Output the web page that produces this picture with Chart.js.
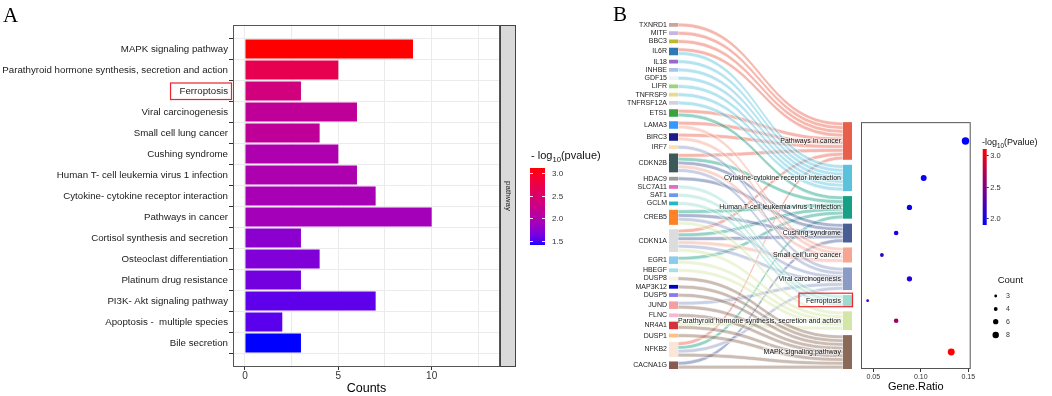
<!DOCTYPE html>
<html lang="en">
<head>
<meta charset="UTF-8">
<title>Pathway enrichment</title>
<script src="https://cdn.jsdelivr.net/npm/chart.js@4.4.1/dist/chart.umd.min.js"></script>
<style>
  body { margin: 0; background: #fff; }
  #wrap { position: relative; width: 1052px; height: 396px; overflow: hidden; }
  canvas { position: absolute; top: 0; }
  #chartA { left: 0; }
  #chartB { left: 600px; }
  #chartC { left: 855px; }
</style>
</head>
<body>
<div id="wrap">
  <canvas id="chartA" width="620" height="396"></canvas>
  <canvas id="chartB" width="258" height="396"></canvas>
  <canvas id="chartC" width="197" height="396"></canvas>
</div>
<script>
// ---- panel A data ----
const pathwaysA = ['MAPK signaling pathway', 'Parathyroid hormone synthesis, secretion and action', 'Ferroptosis',
  'Viral carcinogenesis', 'Small cell lung cancer', 'Cushing syndrome', 'Human T- cell leukemia virus 1 infection',
  'Cytokine- cytokine receptor interaction', 'Pathways in cancer', 'Cortisol synthesis and secretion',
  'Osteoclast differentiation', 'Platinum drug resistance', 'PI3K- Akt signaling pathway',
  'Apoptosis -  multiple species', 'Bile secretion'];
const countsA = [9, 5, 3, 6, 4, 5, 6, 7, 10, 3, 4, 3, 7, 2, 3];
const logPA = [3.12, 2.69, 2.35, 2.14, 2.14, 1.98, 1.97, 1.93, 1.90, 1.74, 1.68, 1.62, 1.54, 1.53, 1.40];
const countTicksA = [0, 2.5, 5, 7.5, 10, 12.5];
const colorTicksA = [1.5, 2.0, 2.5, 3.0];

// ---- panel B data ----
const genes = ['TXNRD1', 'MITF', 'BBC3', 'IL6R', 'IL18', 'INHBE', 'GDF15', 'LIFR', 'TNFRSF9', 'TNFRSF12A',
  'ETS1', 'LAMA3', 'BIRC3', 'IRF7', 'CDKN2B', 'HDAC9', 'SLC7A11', 'SAT1', 'GCLM', 'CREB5',
  'CDKN1A', 'EGR1', 'HBEGF', 'DUSP8', 'MAP3K12', 'DUSP5', 'JUND', 'FLNC', 'NR4A1', 'DUSP1', 'NFKB2', 'CACNA1G'];
const geneColors = ['#c9a59b', '#c8b4e0', '#bdb92c', '#2f78b8', '#9a68c6', '#a8c4ea', '#eef3f7', '#98d67a',
  '#e6dc8a', '#d2d2da', '#3aa340', '#3399ff', '#1b1b8a', '#fbe1b0', '#3e5a58', '#9b9b9b', '#e26cc2', '#6a98ea',
  '#20bac6', '#ff8224', '#dcdcdc', '#8ccbf0', '#a6dfe8', '#f9f2e6', '#0000cc', '#8a78ee', '#f5a0a0', '#f7b6d8',
  '#d83038', '#ffc07e', '#f9e6d6', '#8a5a50'];
const pathwaysB = ['Pathways in cancer', 'Cytokine-cytokine receptor interaction', 'Human T-cell leukemia virus 1 infection',
  'Cushing syndrome', 'Small cell lung cancer', 'Viral carcinogenesis', 'Ferroptosis',
  'Parathyroid hormone synthesis, secretion and action', 'MAPK signaling pathway'];
const pathwayColors = ['#e8604c', '#5cc1dc', '#17a086', '#4a5e96', '#f6a592', '#8c9ac6', '#9cdcd0', '#d4e6a6', '#8c6a58'];
const pathwayGenes = [
  ['TXNRD1', 'MITF', 'BBC3', 'IL6R', 'ETS1', 'LAMA3', 'BIRC3', 'CDKN2B', 'CDKN1A', 'NFKB2'],
  ['IL6R', 'IL18', 'INHBE', 'GDF15', 'LIFR', 'TNFRSF9', 'TNFRSF12A'],
  ['ETS1', 'CDKN2B', 'CREB5', 'CDKN1A', 'EGR1', 'NFKB2'],
  ['CDKN2B', 'HDAC9', 'CREB5', 'CDKN1A', 'CACNA1G'],
  ['LAMA3', 'BIRC3', 'CDKN2B', 'CDKN1A'],
  ['IRF7', 'CDKN2B', 'CREB5', 'CDKN1A', 'JUND', 'NFKB2'],
  ['SLC7A11', 'SAT1', 'GCLM'],
  ['CREB5', 'CDKN1A', 'EGR1', 'HBEGF', 'NR4A1'],
  ['DUSP8', 'MAP3K12', 'DUSP5', 'JUND', 'FLNC', 'NR4A1', 'DUSP1', 'NFKB2', 'CACNA1G']
];
const geneRatio = [0.147, 0.103, 0.088, 0.074, 0.059, 0.088, 0.044, 0.074, 0.132];
const logPB = [1.89, 1.93, 1.96, 2.02, 2.12, 2.05, 2.20, 2.62, 3.10];
const ratioTicksB = [0.05, 0.10, 0.15];
const colorTicksB = [2.0, 2.5, 3.0];
const countLegendB = [3, 4, 6, 8];

const FONT = '"Liberation Sans", Arial, sans-serif';
const SERIF = '"Liberation Serif", "DejaVu Serif", serif';

// blue -> red in Lab space (panel A), plain rgb (panel B)
function toLin(c) { c /= 255; return c <= 0.04045 ? c / 12.92 : Math.pow((c + 0.055) / 1.055, 2.4); }
function toSrgb(c) { c = Math.max(0, Math.min(1, c)); return Math.round(255 * (c <= 0.0031308 ? 12.92 * c : 1.055 * Math.pow(c, 1 / 2.4) - 0.055)); }
function rgbToLab(rgb) {
  const [R, G, B] = rgb.map(toLin);
  const f = t => t > 0.008856 ? Math.cbrt(t) : 7.787 * t + 16 / 116;
  const fx = f((0.4124 * R + 0.3576 * G + 0.1805 * B) / 0.95047);
  const fy = f(0.2126 * R + 0.7152 * G + 0.0722 * B);
  const fz = f((0.0193 * R + 0.1192 * G + 0.9505 * B) / 1.08883);
  return [116 * fy - 16, 500 * (fx - fy), 200 * (fy - fz)];
}
function labToRgb([L, a, b]) {
  const fy = (L + 16) / 116, fx = fy + a / 500, fz = fy - b / 200;
  const inv = t => t * t * t > 0.008856 ? t * t * t : (t - 16 / 116) / 7.787;
  const x = inv(fx) * 0.95047, y = inv(fy), z = inv(fz) * 1.08883;
  const r = toSrgb(3.2406 * x - 1.5372 * y - 0.4986 * z);
  const g = toSrgb(-0.9689 * x + 1.8758 * y + 0.0415 * z);
  const bl = toSrgb(0.0557 * x - 0.2040 * y + 1.0570 * z);
  return `rgb(${r},${g},${bl})`;
}
const LAB_LOW = rgbToLab([0, 0, 255]), LAB_HIGH = rgbToLab([255, 0, 0]);
const minA = Math.min(...logPA), maxA = Math.max(...logPA);
function colorA(v) {
  const t = (v - minA) / (maxA - minA);
  return labToRgb(LAB_LOW.map((c, i) => c + t * (LAB_HIGH[i] - c)));
}
const minB = Math.min(...logPB), maxB = Math.max(...logPB);
function colorB(v) {
  const t = Math.max(0, Math.min(1, (v - minB) / (maxB - minB)));
  return `rgb(${Math.round(255 * t)},0,${Math.round(255 * (1 - t))})`;
}
function radiusB(c) { return Math.sqrt(Math.max(0.5, -3.07 + 1.676 * c)); }

function drawLogTitle(ctx, x, y, size, lead, tail) {
  ctx.textAlign = 'left'; ctx.textBaseline = 'alphabetic';
  ctx.font = size + 'px ' + FONT;
  ctx.fillText(lead, x, y);
  let w = ctx.measureText(lead).width;
  ctx.font = (size * 0.7) + 'px ' + FONT;
  ctx.fillText('10', x + w, y + size * 0.3);
  w += ctx.measureText('10').width;
  ctx.font = size + 'px ' + FONT;
  ctx.fillText(tail, x + w, y);
}

// ---------------- panel A ----------------
const panelA = {
  id: 'panelA',
  afterDraw(chart) {
    const { ctx, chartArea: a, scales: { y } } = chart;
    ctx.save();
    ctx.strokeStyle = '#555'; ctx.lineWidth = 1;
    ctx.strokeRect(a.left + 0.5, a.top + 0.5, a.width - 1, a.height - 1);
    // facet strip
    ctx.fillStyle = '#d9d9d9';
    ctx.fillRect(a.right, a.top, 15, a.height);
    ctx.strokeStyle = '#444';
    ctx.strokeRect(a.right + 0.5, a.top + 0.5, 15, a.height - 1);
    ctx.save();
    ctx.translate(a.right + 8, (a.top + a.bottom) / 2);
    ctx.rotate(Math.PI / 2);
    ctx.fillStyle = '#1a1a1a'; ctx.font = '8px ' + FONT;
    ctx.textAlign = 'center'; ctx.textBaseline = 'middle';
    ctx.fillText('pathway', 0, 0);
    ctx.restore();

    // highlight box round "Ferroptosis"
    const fi = pathwaysA.indexOf('Ferroptosis');
    const fy = y.getPixelForValue(fi);
    ctx.font = '9.7px ' + FONT;
    const tw = ctx.measureText('Ferroptosis').width;
    const tx = a.left - 5 - tw;
    ctx.strokeStyle = '#e8262b'; ctx.lineWidth = 1.2;
    ctx.strokeRect(tx - 9, fy - 8, a.left - 1.5 - (tx - 9), 16.5);

    // colour bar legend
    ctx.fillStyle = '#111';
    drawLogTitle(ctx, 531, 158.5, 11, '- log', '(pvalue)');
    const bx = 530, bw = 15, top = 168, bot = 245;
    for (let py = top; py < bot; py++) {
      const v = maxA - (py - top + 0.5) / (bot - top) * (maxA - minA);
      ctx.fillStyle = colorA(v);
      ctx.fillRect(bx, py, bw, 1);
    }
    ctx.font = '8px ' + FONT; ctx.textAlign = 'left'; ctx.textBaseline = 'middle';
    ctx.strokeStyle = 'rgba(255,255,255,0.9)'; ctx.lineWidth = 1;
    colorTicksA.forEach(v => {
      const py = Math.round(bot - (v - minA) / (maxA - minA) * (bot - top)) + 0.5;
      ctx.beginPath();
      ctx.moveTo(bx, py); ctx.lineTo(bx + 3, py);
      ctx.moveTo(bx + bw - 3, py); ctx.lineTo(bx + bw, py);
      ctx.stroke();
      ctx.fillStyle = '#333';
      ctx.fillText(v.toFixed(1), 552, py);
    });

    ctx.fillStyle = '#000'; ctx.font = '21px ' + SERIF;
    ctx.textAlign = 'left'; ctx.textBaseline = 'alphabetic';
    ctx.fillText('A', 3, 22);
    ctx.restore();
  }
};

new Chart(document.getElementById('chartA'), {
  type: 'bar',
  data: {
    datasets: [{
      data: countsA.map((c, i) => ({ x: c, y: i })),
      backgroundColor: logPA.map(colorA),
      borderWidth: 0,
      barPercentage: 0.9,
      categoryPercentage: 1
    }]
  },
  options: {
    indexAxis: 'y',
    responsive: false,
    animation: false,
    devicePixelRatio: 1,
    layout: { padding: { left: 0, top: 25, right: 120, bottom: 0 } },
    plugins: { legend: { display: false }, tooltip: { enabled: false } },
    scales: {
      x: {
        type: 'linear', min: -0.64, max: 13.66,
        afterBuildTicks: s => { s.ticks = countTicksA.map(v => ({ value: v })); },
        afterFit: s => { s.height = 29; },
        border: { display: false },
        grid: {
          color: '#ebebeb', tickLength: 3,
          tickColor: c => (c.tick && c.tick.value % 5 === 0) ? '#333' : 'rgba(0,0,0,0)'
        },
        ticks: {
          autoSkip: false, maxRotation: 0, padding: 0, color: '#333',
          font: { family: FONT, size: 10 },
          callback: v => (v % 5 === 0 ? String(v) : '')
        },
        title: { display: true, text: 'Counts', color: '#000', font: { family: FONT, size: 12.5 }, padding: { top: 0, bottom: 0 } }
      },
      y: {
        type: 'linear', reverse: true, min: -0.6, max: pathwaysA.length - 0.4,
        afterBuildTicks: s => { s.ticks = pathwaysA.map((_, i) => ({ value: i })); },
        afterFit: s => { s.width = 233; },
        border: { display: false },
        grid: { color: '#ebebeb', tickLength: 4, tickColor: '#333' },
        ticks: {
          autoSkip: false, padding: 1, color: '#1a1a1a',
          font: { family: FONT, size: 9.7 },
          callback: v => pathwaysA[v]
        }
      }
    }
  },
  plugins: [panelA]
});

// ---------------- panel B : sankey ----------------
const GENE_GAP = 1.19, PATH_GAP = 1.32, NODE_W = 9;
const geneCount = genes.map(g => pathwayGenes.filter(l => l.includes(g)).length);
const pathCount = pathwayGenes.map(l => l.length);
const geneTop = [];
let acc = 0;
geneCount.forEach(c => { geneTop.push(acc); acc += c + GENE_GAP; });
const spanB = acc - GENE_GAP;
const pathStart = [];
acc = 0;
pathCount.forEach(c => { pathStart.push(acc); acc += c + PATH_GAP; });
const pathSpan = acc - PATH_GAP;
const pathTop = pathStart.map(v => v + spanB - pathSpan);
const pathCenter = pathTop.map((t, j) => t + pathCount[j] / 2);

// one link per gene/pathway pair, stacked in order on both sides
const links = [];
pathwayGenes.forEach((list, j) => {
  const sorted = list.map(g => genes.indexOf(g)).sort((a, b) => a - b);
  sorted.forEach((gi, k) => {
    const slot = pathwayGenes.slice(0, j).filter(l => l.includes(genes[gi])).length;
    links.push({ gi, j, g0: geneTop[gi] + slot, p0: pathTop[j] + k });
  });
});

function withAlpha(hex, a) {
  const n = parseInt(hex.slice(1), 16);
  return `rgba(${n >> 16},${(n >> 8) & 255},${n & 255},${a})`;
}

const SANKEY_TOP = 23, SANKEY_BOTTOM = 369;

const sankeyB = {
  id: 'sankeyB',
  afterDraw(chart) {
    const { ctx, chartArea: a, scales: { y } } = chart;
    ctx.save();
    const xg = a.left + NODE_W, xp = a.right - NODE_W, xm = (xg + xp) / 2;
    ctx.lineWidth = 0.7;
    ctx.strokeStyle = 'rgba(255,255,255,0.85)';
    links.forEach(l => {
      const g0 = y.getPixelForValue(l.g0), g1 = y.getPixelForValue(l.g0 + 1);
      const p0 = y.getPixelForValue(l.p0), p1 = y.getPixelForValue(l.p0 + 1);
      ctx.beginPath();
      ctx.moveTo(xg, g0);
      ctx.bezierCurveTo(xm, g0, xm, p0, xp, p0);
      ctx.lineTo(xp, p1);
      ctx.bezierCurveTo(xm, p1, xm, g1, xg, g1);
      ctx.closePath();
      ctx.fillStyle = withAlpha(pathwayColors[l.j], 0.45);
      ctx.fill();
      ctx.stroke();
    });
    // gene nodes + labels
    ctx.font = '7px ' + FONT; ctx.textAlign = 'right'; ctx.textBaseline = 'middle';
    genes.forEach((g, i) => {
      const t = y.getPixelForValue(geneTop[i]), b = y.getPixelForValue(geneTop[i] + geneCount[i]);
      ctx.fillStyle = geneColors[i];
      ctx.fillRect(a.left, t, NODE_W, b - t);
      ctx.fillStyle = '#222';
      ctx.fillText(g, a.left - 2, (t + b) / 2);
    });
    // pathway nodes + labels
    ctx.lineWidth = 1.5; ctx.strokeStyle = 'rgba(255,255,255,0.6)';
    pathwaysB.forEach((p, j) => {
      const t = y.getPixelForValue(pathTop[j]), b = y.getPixelForValue(pathTop[j] + pathCount[j]);
      ctx.fillStyle = pathwayColors[j];
      ctx.fillRect(xp, t, NODE_W, b - t);
      ctx.strokeText(p, xp - 2, (t + b) / 2);
      ctx.fillStyle = '#111';
      ctx.fillText(p, xp - 2, (t + b) / 2);
    });
    // highlight box round "Ferroptosis"
    const fj = pathwaysB.indexOf('Ferroptosis');
    const fc = y.getPixelForValue(pathCenter[fj]);
    const tw = ctx.measureText('Ferroptosis').width;
    const left = xp - 2 - tw - 7;
    ctx.strokeStyle = '#e8262b'; ctx.lineWidth = 1.2;
    ctx.strokeRect(left, fc - 7.5, a.right + 0.5 - left, 13.5);

    ctx.fillStyle = '#000'; ctx.font = '21px ' + SERIF;
    ctx.textAlign = 'left'; ctx.textBaseline = 'alphabetic';
    ctx.fillText('B', 13, 21);
    ctx.restore();
  }
};

new Chart(document.getElementById('chartB'), {
  type: 'scatter',
  data: { datasets: [] },
  options: {
    responsive: false,
    animation: false,
    devicePixelRatio: 1,
    layout: { padding: { left: 69, right: 6, top: SANKEY_TOP, bottom: 396 - SANKEY_BOTTOM } },
    plugins: { legend: { display: false }, tooltip: { enabled: false } },
    scales: {
      x: { type: 'linear', min: 0, max: 1, display: false },
      y: { type: 'linear', min: 0, max: spanB, reverse: true, display: false }
    }
  },
  plugins: [sankeyB]
});

// ---------------- panel B : dot plot ----------------
const pxPerUnit = (SANKEY_BOTTOM - SANKEY_TOP) / spanB;
const dotTop = SANKEY_BOTTOM - pathSpan * pxPerUnit;

const dotB = {
  id: 'dotB',
  afterDraw(chart) {
    const { ctx, chartArea: a } = chart;
    ctx.save();
    ctx.strokeStyle = '#555'; ctx.lineWidth = 1;
    ctx.strokeRect(a.left + 0.5, a.top + 0.5, a.width - 1, a.height - 1);

    // colour bar
    ctx.fillStyle = '#111';
    drawLogTitle(ctx, 127, 145, 9, '-log', '(Pvalue)');
    const bx = 127.7, bw = 4, top = 149, bot = 225;
    for (let py = top; py < bot; py++) {
      ctx.fillStyle = colorB(maxB - (py - top + 0.5) / (bot - top) * (maxB - minB));
      ctx.fillRect(bx, py, bw, 1);
    }
    ctx.font = '7.5px ' + FONT; ctx.textAlign = 'left'; ctx.textBaseline = 'middle';
    ctx.strokeStyle = '#333';
    colorTicksB.forEach(v => {
      const py = Math.round(bot - (v - minB) / (maxB - minB) * (bot - top)) + 0.5;
      ctx.beginPath(); ctx.moveTo(bx + bw, py); ctx.lineTo(bx + bw + 2, py); ctx.stroke();
      ctx.fillStyle = '#333';
      ctx.fillText(v.toFixed(1), bx + bw + 3.5, py);
    });

    // size legend
    ctx.fillStyle = '#111'; ctx.font = '9.5px ' + FONT;
    ctx.fillText('Count', 142.7, 280);
    const ys = [296, 309, 321.7, 335];
    ctx.font = '7px ' + FONT;
    countLegendB.forEach((c, i) => {
      ctx.fillStyle = '#000';
      ctx.beginPath(); ctx.arc(140.7, ys[i], radiusB(c), 0, Math.PI * 2); ctx.fill();
      ctx.fillStyle = '#333';
      ctx.fillText(String(c), 151, ys[i]);
    });
    ctx.restore();
  }
};

new Chart(document.getElementById('chartC'), {
  type: 'bubble',
  data: {
    datasets: [{
      data: pathwaysB.map((p, j) => ({ x: geneRatio[j], y: pathCenter[j], r: radiusB(pathCount[j]) })),
      backgroundColor: logPB.map(colorB),
      borderWidth: 0,
      clip: false
    }]
  },
  options: {
    responsive: false,
    animation: false,
    devicePixelRatio: 1,
    layout: { padding: { left: 6, right: 81.3, top: dotTop, bottom: 0 } },
    plugins: { legend: { display: false }, tooltip: { enabled: false } },
    scales: {
      x: {
        type: 'linear', min: 0.037, max: 0.1525,
        afterBuildTicks: s => { s.ticks = ratioTicksB.map(v => ({ value: v })); },
        afterFit: s => { s.height = 396 - SANKEY_BOTTOM; },
        border: { display: false },
        grid: { display: true, drawOnChartArea: false, tickLength: 3, tickColor: '#333' },
        ticks: {
          autoSkip: false, maxRotation: 0, padding: 1, color: '#333',
          font: { family: FONT, size: 7 },
          callback: v => v.toFixed(2)
        },
        title: { display: true, text: 'Gene.Ratio', color: '#000', font: { family: FONT, size: 11 }, padding: { top: 0, bottom: 2.5 } }
      },
      y: { type: 'linear', min: spanB - pathSpan, max: spanB, reverse: true, display: false }
    }
  },
  plugins: [dotB]
});
</script>
</body>
</html>
